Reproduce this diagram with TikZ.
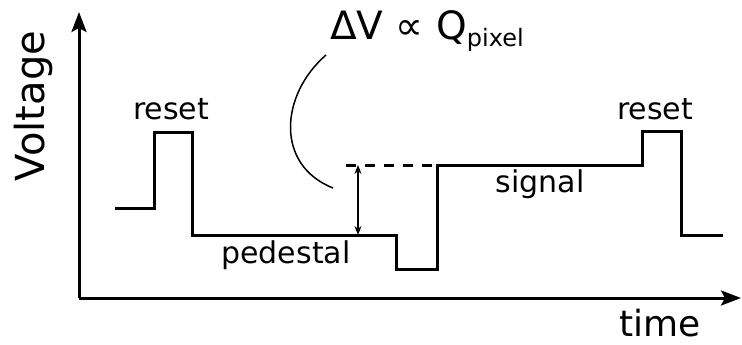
\documentclass[tikz,border=0pt]{standalone}
\usepackage{fontspec}
\setmainfont{DejaVu Sans}
\usepackage{tikz}
\usetikzlibrary{arrows.meta,positioning,calc}

\begin{document}
\begin{tikzpicture}[
    x=1pt, y=-1pt,
    axis/.style={line width=3pt, -{Stealth[length=20pt, width=15pt, inset=4pt]}},
    sig/.style={line width=3pt, line join=miter},
    lbl/.style={anchor=base, inner sep=0pt, font=\fontsize{30}{36}\selectfont},
    big/.style={anchor=base, inner sep=0pt, font=\fontsize{40}{46}\selectfont}
  ]
  \useasboundingbox (0,0) rectangle (742,345);

  % axes
  \coordinate (o)  at (79,298);
  \coordinate (yt) at (79,12);
  \coordinate (xt) at (741,298);
  \draw[axis] (o) -- (yt);
  \draw[axis] (o) -- (xt);
  \node[big, rotate=90] (volt) at (44,106) {Voltage};
  \node[big, text depth=0pt, font=\fontsize{36}{42}\selectfont] (time) at (660,336) {time};

  % readout waveform
  \draw[sig] (115,208) -- (154,208) -- (154,132) -- (192,132) -- (192,235)
    -- (396,235) -- (396,269) -- (437,269) -- (437,165) -- (642,165)
    -- (642,131) -- (681,131) -- (681,235) -- (723,235);

  \node[lbl] (rs1) at (171,119) {reset};
  \node[lbl] (rs2) at (655,119) {reset};
  \node[lbl] (ped) at (286,263) {pedestal};
  \node[lbl] (sgn) at (540,192) {signal};

  % voltage step
  \coordinate (dl) at (346,165);
  \coordinate (dr) at (437,165);
  \draw[line width=3pt, dash pattern=on 10pt off 9pt] (dl) -- (dr);
  \coordinate (st) at (358,165);
  \coordinate (sb) at (358,235);
  \draw[line width=1.3pt, {Stealth[length=9pt, width=7pt]}-{Stealth[length=9pt, width=7pt]}] (st) -- (sb);

  \node[anchor=base west, inner sep=0pt, font=\fontsize{39}{46}\selectfont] (dv) at (330,40)
    {ΔV ∝ Q\raisebox{-7pt}{\fontsize{24}{28}\selectfont pixel}};
  \coordinate (ca) at (326,55);
  \coordinate (cb) at (333,188);
  \draw[line width=1.5pt] (ca) .. controls (280,95) and (275,165) .. (cb);
\end{tikzpicture}
\end{document}
